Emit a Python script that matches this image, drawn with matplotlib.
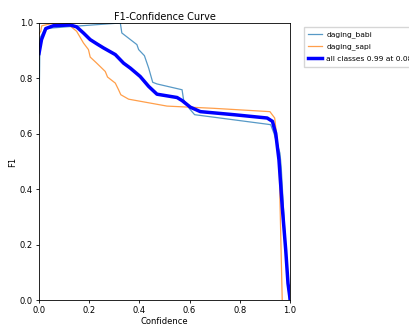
import matplotlib
matplotlib.use("Agg")
import matplotlib.pyplot as plt

babi_x = [0.0, 0.004, 0.024, 0.137, 0.324, 0.33, 0.39, 0.397, 0.42, 0.437, 0.453, 0.47, 0.57, 0.576, 0.60, 0.62, 0.923, 0.936, 0.96, 0.965, 0.985, 0.997]
babi_y = [0.675, 0.946, 0.98, 0.988, 1.0, 0.964, 0.922, 0.904, 0.882, 0.837, 0.786, 0.78, 0.759, 0.723, 0.69, 0.669, 0.633, 0.602, 0.53, 0.48, 0.15, 0.0]

sapi_x = [0.0, 0.007, 0.011, 0.06, 0.11, 0.15, 0.177, 0.197, 0.204, 0.23, 0.264, 0.273, 0.304, 0.317, 0.326, 0.357, 0.51, 0.696, 0.92, 0.939, 0.956, 0.969]
sapi_y = [0.96, 0.97, 0.99, 1.0, 1.0, 0.97, 0.928, 0.904, 0.877, 0.855, 0.825, 0.805, 0.783, 0.759, 0.741, 0.725, 0.70, 0.692, 0.68, 0.657, 0.518, 0.0]

all_x = [0.0, 0.01, 0.027, 0.057, 0.124, 0.15, 0.177, 0.204, 0.23, 0.257, 0.304, 0.337, 0.364, 0.403, 0.437, 0.47, 0.55, 0.57, 0.603, 0.643, 0.776, 0.909, 0.93, 0.943, 0.956, 0.969, 0.983, 0.992, 1.0]
all_y = [0.89, 0.94, 0.98, 0.99, 0.993, 0.986, 0.964, 0.94, 0.925, 0.91, 0.886, 0.855, 0.837, 0.807, 0.771, 0.743, 0.731, 0.72, 0.696, 0.68, 0.669, 0.657, 0.645, 0.602, 0.506, 0.337, 0.18, 0.06, 0.006]

labels = ["daging_babi", "daging_sapi", "all classes 0.99 at 0.087"]

fig = plt.figure(figsize=(4.09, 3.25), dpi=100)
ax = fig.add_axes([39/409, 25/325, 251/409, 277/325])
ax.plot(babi_x, babi_y, color="#1f77b4", lw=0.9, alpha=0.75, label=labels[0])
ax.plot(sapi_x, sapi_y, color="#ff7f0e", lw=0.9, alpha=0.75, label=labels[1])
ax.plot(all_x, all_y, color="blue", lw=2.5, label=labels[2])
ax.set_xlim(0, 1)
ax.set_ylim(0, 1)
ax.set_xticks([0, 0.2, 0.4, 0.6, 0.8, 1.0])
ax.set_yticks([0, 0.2, 0.4, 0.6, 0.8, 1.0])
ax.tick_params(labelsize=6, length=2.5, width=0.6, pad=2)
for s in ax.spines.values():
    s.set_linewidth(0.6)
ax.set_xlabel("Confidence", fontsize=6, labelpad=1)
ax.set_ylabel("F1", fontsize=6, labelpad=2)
ax.set_title("F1-Confidence Curve", fontsize=7, pad=2)
ax.legend(bbox_to_anchor=(1.04, 1), loc="upper left", fontsize=5.4, frameon=True,
          fancybox=False, edgecolor="#cccccc", borderpad=0.6, handlelength=1.8,
          handletextpad=0.6, labelspacing=0.7)
fig.savefig("out.png", dpi=100)
